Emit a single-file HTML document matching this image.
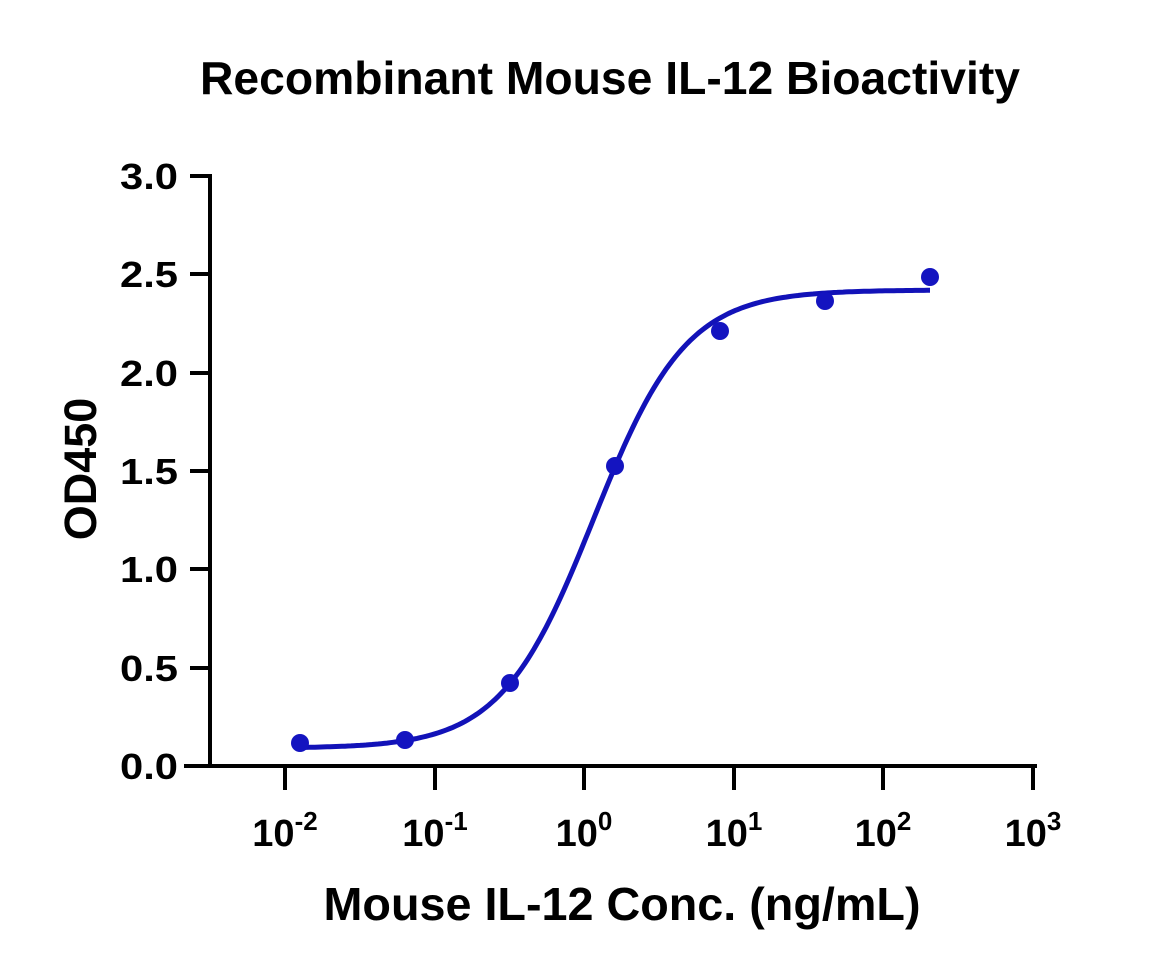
<!DOCTYPE html>
<html><head><meta charset="utf-8"><style>
html,body{margin:0;padding:0;background:#fff;}
svg{display:block;font-family:"Liberation Sans",sans-serif;font-weight:bold;}
</style></head><body>
<svg width="1167" height="974" viewBox="0 0 1167 974" xmlns="http://www.w3.org/2000/svg">
<text x="610" y="94" font-size="46" text-anchor="middle" textLength="820" lengthAdjust="spacingAndGlyphs">Recombinant Mouse IL-12 Bioactivity</text>
<g stroke="#000" stroke-width="4" fill="none">
<line x1="210" y1="174" x2="210" y2="767"/>
<line x1="184" y1="766" x2="1037" y2="766"/>
<line x1="190" y1="176" x2="210" y2="176"/>
<line x1="190" y1="274" x2="210" y2="274"/>
<line x1="190" y1="373" x2="210" y2="373"/>
<line x1="190" y1="471" x2="210" y2="471"/>
<line x1="190" y1="569" x2="210" y2="569"/>
<line x1="190" y1="668" x2="210" y2="668"/>
<line x1="190" y1="766" x2="210" y2="766"/>
<line x1="285" y1="766" x2="285" y2="790"/>
<line x1="435" y1="766" x2="435" y2="790"/>
<line x1="584" y1="766" x2="584" y2="790"/>
<line x1="734" y1="766" x2="734" y2="790"/>
<line x1="883" y1="766" x2="883" y2="790"/>
<line x1="1033" y1="766" x2="1033" y2="790"/>
</g>
<g font-size="36" text-anchor="end">
<text x="178" y="189" textLength="58" lengthAdjust="spacingAndGlyphs">3.0</text>
<text x="178" y="287" textLength="58" lengthAdjust="spacingAndGlyphs">2.5</text>
<text x="178" y="386" textLength="58" lengthAdjust="spacingAndGlyphs">2.0</text>
<text x="178" y="484" textLength="58" lengthAdjust="spacingAndGlyphs">1.5</text>
<text x="178" y="582" textLength="58" lengthAdjust="spacingAndGlyphs">1.0</text>
<text x="178" y="681" textLength="58" lengthAdjust="spacingAndGlyphs">0.5</text>
<text x="178" y="779" textLength="58" lengthAdjust="spacingAndGlyphs">0.0</text>
</g>
<g font-size="38" text-anchor="middle">
<text x="285" y="846">10<tspan dy="-16" font-size="26">-2</tspan></text>
<text x="435" y="846">10<tspan dy="-16" font-size="26">-1</tspan></text>
<text x="584" y="846">10<tspan dy="-16" font-size="26">0</tspan></text>
<text x="734" y="846">10<tspan dy="-16" font-size="26">1</tspan></text>
<text x="883" y="846">10<tspan dy="-16" font-size="26">2</tspan></text>
<text x="1033" y="846">10<tspan dy="-16" font-size="26">3</tspan></text>
</g>
<text x="622" y="920" font-size="46" text-anchor="middle" textLength="597" lengthAdjust="spacingAndGlyphs">Mouse IL-12 Conc. (ng/mL)</text>
<text transform="translate(96,469) rotate(-90)" font-size="45" text-anchor="middle">OD450</text>
<path id="c" fill="none" stroke="#1212b8" stroke-width="5"/>
<g fill="#1414c0">
<circle cx="300" cy="743" r="9"/>
<circle cx="405" cy="740" r="9"/>
<circle cx="510" cy="683" r="9"/>
<circle cx="615" cy="466" r="9"/>
<circle cx="720" cy="331" r="9"/>
<circle cx="825" cy="301" r="9"/>
<circle cx="930" cy="277" r="9"/>
</g>
<script>
var d="";for(var x=300;x<=930;x+=3){var l=(x-287)/149.3-2;var v=0.09+2.33/(1+Math.pow(10,1.40*(0.053-l)));var y=766-v*196.7;d+=(x==300?"M":"L")+x+" "+y.toFixed(1);}
document.getElementById("c").setAttribute("d",d);
</script>
</svg>
</body></html>
